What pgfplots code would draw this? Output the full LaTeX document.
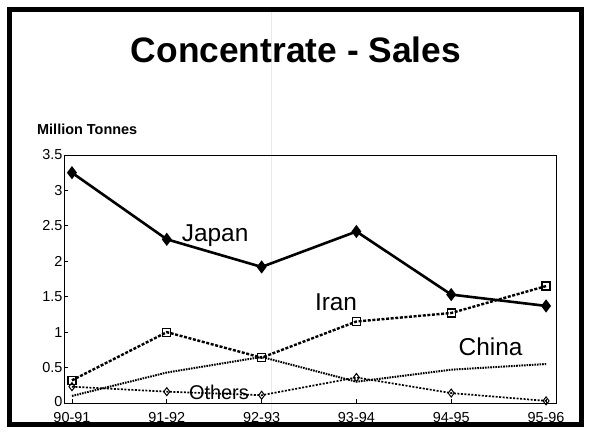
\documentclass[border=0pt]{standalone}
\usepackage{fontspec}
\setmainfont{Liberation Sans}
\usepackage{pgfplots}
\pgfplotsset{compat=1.18}
\begin{document}
\begin{tikzpicture}[x=1bp,y=1bp]
\path[use as bounding box] (0,0) rectangle (590,437);
\draw[yellow!60!white, line width=1bp] (271,12) -- (271,427.5);
\draw[line width=5bp] (9.5,427.5) rectangle (581,12);
\node[anchor=base] at (296,374) {\fontsize{35.5}{40}\selectfont\bfseries Concentrate - Sales};
\node[anchor=base west, inner sep=0pt] at (37,302) {\fontsize{14.5}{16}\selectfont\bfseries Million Tonnes};
\begin{axis}[
  at={(64bp,34bp)}, anchor=south west,
  width=492bp, height=248bp, scale only axis,
  xmin=-0.084, xmax=5.105, ymin=0, ymax=3.5,
  xtick={0,1,2,3,4,5},
  xticklabels={90-91,91-92,92-93,93-94,94-95,95-96},
  ytick={0,0.5,1,1.5,2,2.5,3,3.5},
  yticklabels={\raisebox{4bp}{0},0.5,1,1.5,2,2.5,3,3.5},
  tick pos=left, tick align=inside, major tick length=4bp,
  axis line style={line width=0.9bp},
  tick style={line width=0.8bp, black},
  ticklabel style={font=\fontsize{14.5}{15}\selectfont},
  xticklabel style={yshift=-6bp},
  yticklabel style={xshift=2bp},
  clip=false,
]
\addplot[black, line width=2.6bp, mark=diamond*, mark size=4.5bp, mark options={solid, fill=black}]
  coordinates {(0,3.25) (1,2.31) (2,1.92) (3,2.42) (4,1.53) (5,1.37)};
\addplot[black, line width=2.4bp, dash pattern=on 3bp off 1.6bp, mark=square, mark size=4bp, mark options={solid, fill=white, line width=1.2bp}]
  coordinates {(0,0.32) (1,1.0) (2,0.64) (3,1.15) (4,1.27) (5,1.65)};
\addplot[black, line width=2bp, dash pattern=on 1.6bp off 1bp, mark=boxplus, mark size=4bp, mark options={solid, fill=white, line width=1.3bp, black}]
  coordinates {(0,0.10) (1,0.43) (2,0.65) (3,0.30) (4,0.47) (5,0.55)};
\addplot[black, line width=1.7bp, dash pattern=on 2bp off 1.5bp, mark=diamond, mark size=4bp, mark options={solid, fill=white, line width=1bp}]
  coordinates {(0,0.23) (1,0.16) (2,0.11) (3,0.36) (4,0.14) (5,0.03)};
\node[anchor=base] at (axis cs:1.51,2.275) {\fontsize{24.5}{26}\selectfont Japan};
\node[anchor=base] at (axis cs:2.785,1.31) {\fontsize{24.5}{26}\selectfont Iran};
\node[anchor=base] at (axis cs:4.415,0.677) {\fontsize{24.5}{26}\selectfont China};
\node[anchor=base] at (axis cs:1.55,0.056) {\fontsize{20}{22}\selectfont Others};
\end{axis}
\end{tikzpicture}
\end{document}
